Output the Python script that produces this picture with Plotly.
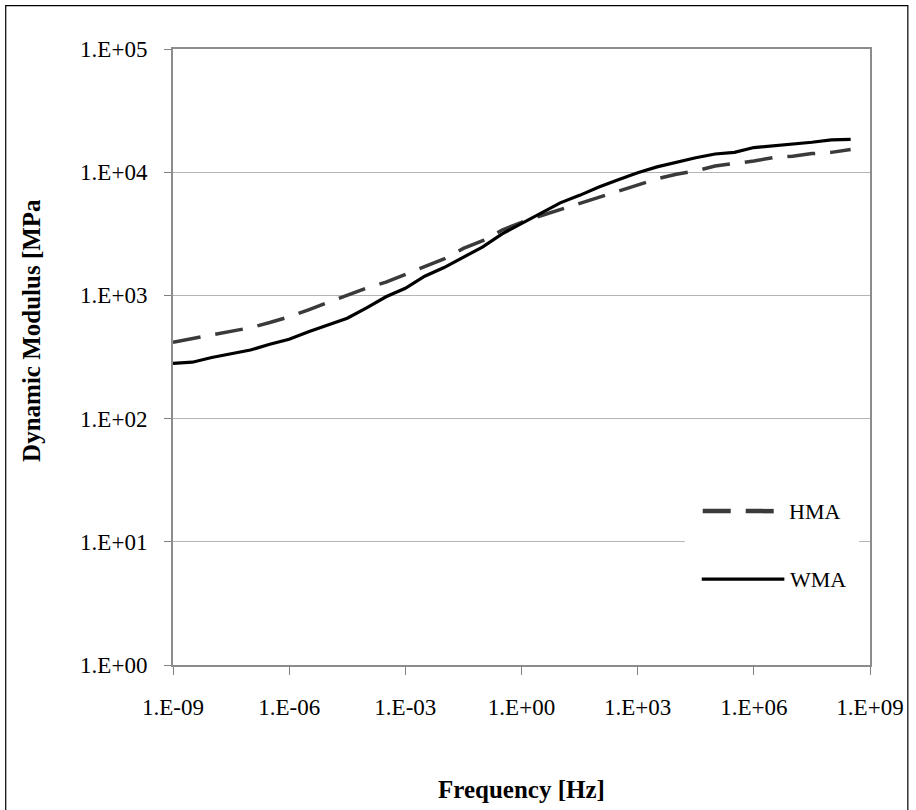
import plotly.graph_objects as go

# Master curves: dynamic modulus vs reduced frequency
frequency_hz = [
    1.00e-09, 3.16e-09, 1.00e-08, 3.16e-08, 1.00e-07, 3.16e-07,
    1.00e-06, 3.16e-06, 1.00e-05, 3.16e-05, 1.00e-04, 3.16e-04,
    1.00e-03, 3.16e-03, 1.00e-02, 3.16e-02, 1.00e-01, 3.16e-01,
    1.00e+00, 3.16e+00, 1.00e+01, 3.16e+01, 1.00e+02, 3.16e+02,
    1.00e+03, 3.16e+03, 1.00e+04, 3.16e+04, 1.00e+05, 3.16e+05,
    1.00e+06, 3.16e+06, 1.00e+07, 3.16e+07, 1.00e+08, 3.16e+08,
]
hma_mpa = [
    417, 446, 473, 507, 547, 602,
    669, 764, 871, 1005, 1146, 1282,
    1483, 1722, 1977, 2405, 2778, 3390,
    3917, 4430, 4975, 5636, 6286, 7050,
    7945, 8835, 9635, 10260, 11220, 11720,
    12330, 13130, 13490, 14160, 14490, 15310,
]
wma_mpa = [
    281, 287, 313, 337, 360, 401,
    441, 508, 572, 652, 792, 975,
    1142, 1430, 1682, 2057, 2478, 3160,
    3846, 4636, 5636, 6487, 7586, 8690,
    9907, 11040, 12080, 13090, 14060, 14490,
    15850, 16410, 16830, 17500, 18320, 18450,
]

x_tick_vals = [1e-9, 1e-6, 1e-3, 1e0, 1e3, 1e6, 1e9]
x_tick_text = ["1.E-09", "1.E-06", "1.E-03", "1.E+00", "1.E+03", "1.E+06", "1.E+09"]
y_tick_vals = [1e0, 1e1, 1e2, 1e3, 1e4, 1e5]
y_tick_text = ["1.E+00", "1.E+01", "1.E+02", "1.E+03", "1.E+04", "1.E+05"]

series_names = ["HMA", "WMA"]
x_title = "Frequency [Hz]"
y_title = "Dynamic Modulus [MPa"

SERIF = "Liberation Serif, Times New Roman, serif"
HMA_COLOR = "#3a3a3a"
WMA_COLOR = "#000000"
HMA_DASH = "28px,15px"

fig = go.Figure()
fig.add_trace(go.Scatter(
    x=frequency_hz, y=hma_mpa, mode="lines", name=series_names[0],
    line=dict(color=HMA_COLOR, width=3.5, dash=HMA_DASH), showlegend=False,
))
fig.add_trace(go.Scatter(
    x=frequency_hz, y=wma_mpa, mode="lines", name=series_names[1],
    line=dict(color=WMA_COLOR, width=3.2), showlegend=False,
))

# Plot area geometry (px) used to place the key and titles in paper coordinates
L, T, W, H = 173, 48.5, 700, 616.5
def px(x):
    return (x - L) / W
def py(y):
    return (T + H - y) / H

shapes = [
    # outer frame of the figure
    dict(type="rect", xref="paper", yref="paper",
         x0=px(5), x1=px(911), y0=py(830), y1=py(5),
         line=dict(color="#000000", width=1.2), fillcolor="rgba(0,0,0,0)", layer="below"),
    # key background
    dict(type="rect", xref="paper", yref="paper",
         x0=px(687), x1=px(862), y0=py(612), y1=py(482),
         line=dict(width=0), fillcolor="white", layer="above"),
    # key samples
    dict(type="line", xref="paper", yref="paper",
         x0=px(705), x1=px(778), y0=py(511), y1=py(511),
         line=dict(color=HMA_COLOR, width=4.5, dash=HMA_DASH), layer="above"),
    dict(type="line", xref="paper", yref="paper",
         x0=px(704), x1=px(787), y0=py(579), y1=py(579),
         line=dict(color=WMA_COLOR, width=3.2), layer="above"),
]
annotations = [
    dict(xref="paper", yref="paper", x=px(790), y=py(511), text=series_names[0],
         showarrow=False, xanchor="left", yanchor="middle",
         font=dict(family=SERIF, size=22, color="#000000")),
    dict(xref="paper", yref="paper", x=px(791), y=py(579), text=series_names[1],
         showarrow=False, xanchor="left", yanchor="middle",
         font=dict(family=SERIF, size=22, color="#000000")),
    # axis titles
    dict(xref="paper", yref="paper", x=px(523), y=py(790), text="<b>%s</b>" % x_title,
         showarrow=False, xanchor="center", yanchor="middle",
         font=dict(family=SERIF, size=25, color="#000000")),
    dict(xref="paper", yref="paper", x=px(31), y=py(330), text="<b>%s</b>" % y_title,
         showarrow=False, xanchor="center", yanchor="middle", textangle=-90,
         font=dict(family=SERIF, size=25, color="#000000")),
]

fig.update_layout(
    width=916, height=810,
    margin=dict(l=L, r=916 - L - W, t=T, b=810 - T - H, pad=0),
    paper_bgcolor="white", plot_bgcolor="white",
    font=dict(family=SERIF, size=23, color="#000000"),
    shapes=shapes, annotations=annotations,
    showlegend=False,
)
fig.update_xaxes(
    type="log", range=[-9, 9],
    tickvals=x_tick_vals, ticktext=x_tick_text,
    ticks="outside", ticklen=8, tickwidth=1, tickcolor="#808080",
    ticklabelstandoff=12,
    showgrid=False, zeroline=False,
    showline=True, linecolor="#8c8c8c", linewidth=2, mirror=True,
    tickfont=dict(family=SERIF, size=23),
)
fig.update_yaxes(
    type="log", range=[0, 5],
    tickvals=y_tick_vals, ticktext=y_tick_text,
    ticks="outside", ticklen=7, tickwidth=1, tickcolor="#808080",
    ticklabelstandoff=12,
    showgrid=True, gridcolor="#b4b4b4", gridwidth=1, zeroline=False,
    showline=True, linecolor="#8c8c8c", linewidth=2, mirror=True,
    tickfont=dict(family=SERIF, size=23),
)

fig.write_html("out.html")
